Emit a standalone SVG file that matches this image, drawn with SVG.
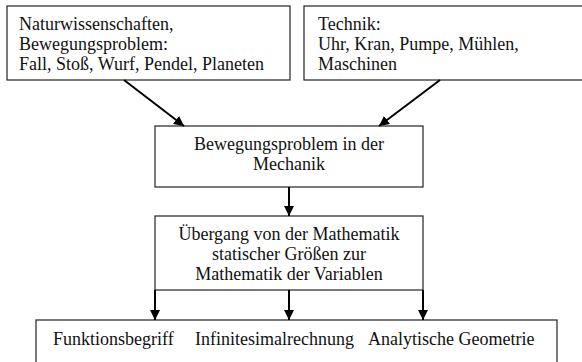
<svg xmlns="http://www.w3.org/2000/svg" width="582" height="362" viewBox="0 0 582 362">
<defs>
<style>
.box{fill:#fff;stroke:#222;stroke-width:1.2}
.t{font-family:"Liberation Serif","Times New Roman",serif;font-size:18px;fill:#111}
.c{text-anchor:middle}
.ln{stroke:#000;stroke-width:2;fill:none}
</style>
<marker id="ah" viewBox="0 0 10 10" refX="10" refY="5" markerWidth="5" markerHeight="5" markerUnits="strokeWidth" orient="auto">
<path d="M0,0 L10,5 L0,10 z" fill="#000"/>
</marker>
</defs>
<rect width="582" height="362" fill="#fff"/>
<g id="n1">
<rect class="box" x="7" y="6" width="283" height="74"/>
<text class="t" x="19" y="30">Naturwissenschaften,</text>
<text class="t" x="19" y="50">Bewegungsproblem:</text>
<text class="t" x="19" y="70">Fall, Stoß, Wurf, Pendel, Planeten</text>
</g>
<g id="n2">
<rect class="box" x="304" y="6" width="290" height="74"/>
<text class="t" x="318" y="30">Technik:</text>
<text class="t" x="318" y="50">Uhr, Kran, Pumpe, Mühlen,</text>
<text class="t" x="318" y="70">Maschinen</text>
</g>
<g id="n3">
<rect class="box" x="155" y="126" width="268" height="61"/>
<text class="t c" x="289" y="150">Bewegungsproblem in der</text>
<text class="t c" x="289" y="170">Mechanik</text>
</g>
<g id="n4">
<rect class="box" x="155" y="216" width="268" height="74"/>
<text class="t c" x="289" y="240">Übergang von der Mathematik</text>
<text class="t c" x="289" y="260">statischer Größen zur</text>
<text class="t c" x="289" y="280">Mathematik der Variablen</text>
</g>
<g id="n5">
<rect class="box" x="36" y="320" width="521" height="60"/>
<text class="t" x="53" y="345">Funktionsbegriff</text>
<text class="t" x="195" y="345">Infinitesimalrechnung</text>
<text class="t" x="368" y="345">Analytische Geometrie</text>
</g>
<g id="connectors">
<line class="ln" x1="124" y1="80" x2="184" y2="126" marker-end="url(#ah)"/>
<line class="ln" x1="440" y1="80" x2="379" y2="126" marker-end="url(#ah)"/>
<line class="ln" x1="289" y1="187" x2="289" y2="216" marker-end="url(#ah)"/>
<line class="ln" x1="155" y1="290" x2="155" y2="320" marker-end="url(#ah)"/>
<line class="ln" x1="289" y1="290" x2="289" y2="320" marker-end="url(#ah)"/>
<line class="ln" x1="423" y1="290" x2="423" y2="320" marker-end="url(#ah)"/>
</g>
</svg>
